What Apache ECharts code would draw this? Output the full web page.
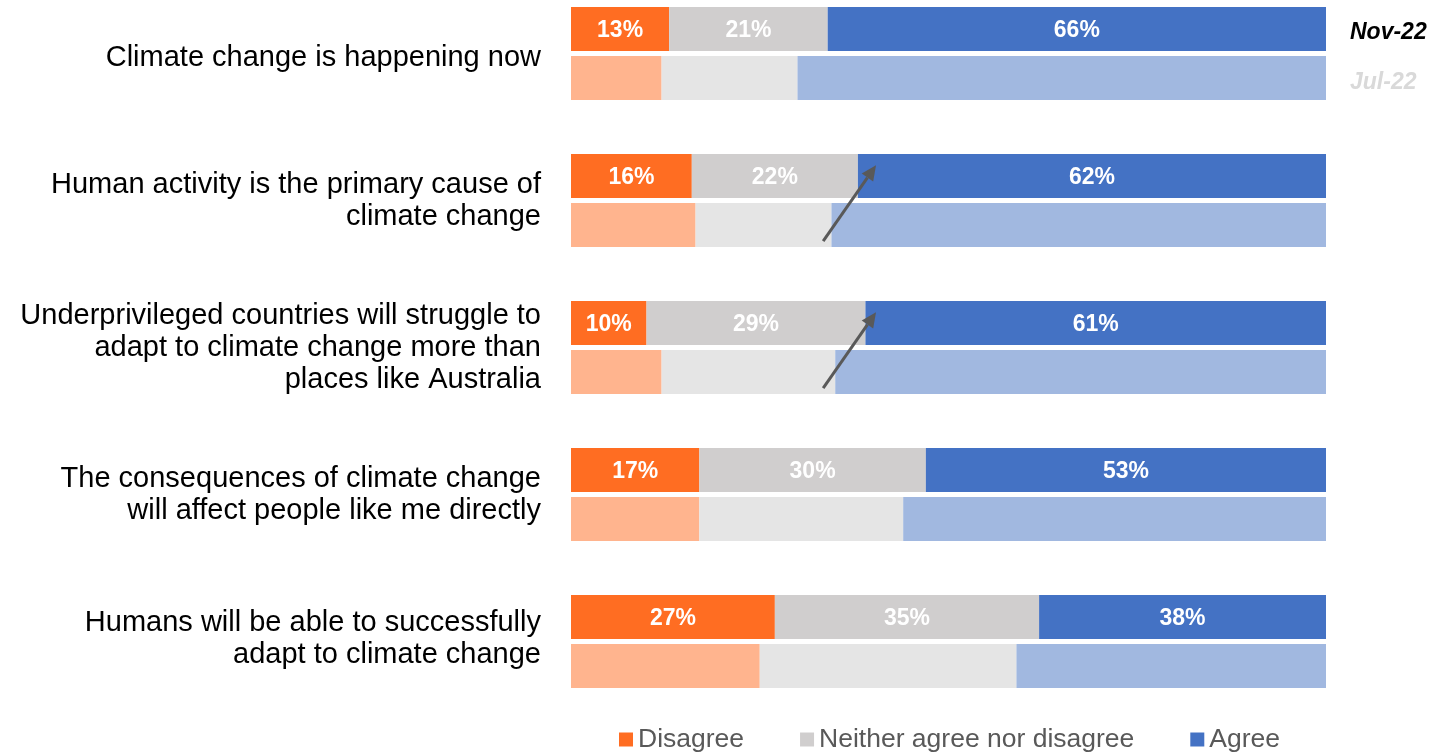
<!DOCTYPE html>
<html>
<head>
<meta charset="utf-8">
<script src="https://cdn.jsdelivr.net/npm/echarts@6/dist/echarts.min.js"></script>
<style>html,body{margin:0;padding:0;background:#fff}#c{width:1434px;height:752px}</style>
</head>
<body>
<div id="c"></div>
<script>
var categories = [
  'Climate change is happening now',
  'Human activity is the primary cause of\nclimate change',
  'Underprivileged countries will struggle to\nadapt to climate change more than\nplaces like Australia',
  'The consequences of climate change\nwill affect people like me directly',
  'Humans will be able to successfully\nadapt to climate change'
];
var waveNames = ['Nov-22', 'Jul-22'];
var seriesNames = ['Disagree', 'Neither agree nor disagree', 'Agree'];
var novDisagree = [13, 16, 10, 17, 27];
var novNeither  = [21, 22, 29, 30, 35];
var novAgree    = [66, 62, 61, 53, 38];
var julDisagree = [12, 16.5, 12, 17, 25];
var julNeither  = [18, 18, 23, 27, 34];
var julAgree    = [70, 65.5, 65, 56, 41];
// arrows: category index and x values (%)
var arrowCats = [1, 2];
var arrowFromX = [33.4, 33.4];
var arrowToX = [40.4, 40.4];

var FONT = '"Liberation Sans", Arial, sans-serif';
var novColors = ['#FF6D22', '#D0CECE', '#4472C4'];
var julColors = ['#FFB48E', '#E5E5E5', '#A1B8E0'];

var chart = echarts.init(document.getElementById('c'), null, {renderer: 'canvas'});

function mk(name, stack, data, color, showLabel) {
  return {
    name: name, type: 'bar', stack: stack, data: data,
    barWidth: 44, barGap: '11%', clip: false,
    itemStyle: {color: color},
    label: {show: showLabel, position: 'inside', offset: [0, 2], formatter: '{c}%', color: '#fff',
      fontWeight: 'bold', fontSize: 23, fontFamily: FONT},
    emphasis: {disabled: true},
    animation: false
  };
}

var novData = [novDisagree, novNeither, novAgree];
var julData = [julDisagree, julNeither, julAgree];
var series = [];
for (var i = 0; i < 3; i++) series.push(mk(seriesNames[i], 'nov', novData[i], novColors[i], true));
for (var j = 0; j < 3; j++) series.push(mk(seriesNames[j] + ' (' + waveNames[1] + ')', 'jul', julData[j], julColors[j], false));

var lblBase = {fontSize: 29, color: '#000', lineHeight: 32, fontFamily: FONT, align: 'right'};
var rich = {
  n: lblBase,
  dn: Object.assign({}, lblBase, {padding: [8, 0, 0, 0]}),
  up: Object.assign({}, lblBase, {padding: [0, 0, 6, 0]})
};

chart.setOption({
  animation: false,
  textStyle: {fontFamily: FONT},
  grid: {left: 571, right: 108, top: 53.5, height: 588},
  xAxis: {type: 'value', min: 0, max: 100, show: false},
  yAxis: {type: 'category', inverse: true, data: categories, boundaryGap: false,
    axisLine: {show: false}, axisTick: {show: false}, splitLine: {show: false},
    axisLabel: {fontSize: 29, color: '#000', lineHeight: 32, margin: 30, fontFamily: FONT, align: 'right',
      rich: rich,
      formatter: function (v, idx) {
        var tag = idx === 0 ? 'dn' : (idx === categories.length - 1 ? 'up' : 'n');
        return v.split('\n').map(function (s) { return '{' + tag + '|' + s + '}'; }).join('\n');
      }}},
  legend: {data: seriesNames, left: 614, top: 721, itemWidth: 14, itemHeight: 14, itemGap: 56,
    icon: 'rect', textStyle: {fontSize: 26.5, color: '#595959', fontFamily: FONT}, selectedMode: false},
  series: series
});

function drawExtras() {
  var p0 = chart.convertToPixel({gridIndex: 0}, [0, 0]);
  var p1 = chart.convertToPixel({gridIndex: 0}, [0, 1]);
  var band = p1[1] - p0[1];
  var pEnd = chart.convertToPixel({gridIndex: 0}, [100, 0]);
  var off = (44 + 5) / 2;
  var g = [];
  g.push({type: 'text', left: pEnd[0] + 24, top: p0[1] - off - 8,
    style: {text: waveNames[0], font: 'italic bold 23px ' + FONT, fill: '#000'}});
  g.push({type: 'text', left: pEnd[0] + 24, top: p0[1] + off - 7,
    style: {text: waveNames[1], font: 'italic bold 23px ' + FONT, fill: '#D9D9D9'}});
  for (var k = 0; k < arrowCats.length; k++) {
    var c = chart.convertToPixel({gridIndex: 0}, [0, arrowCats[k]]);
    var t = chart.convertToPixel({gridIndex: 0}, [arrowFromX[k], arrowCats[k]]);
    var h = chart.convertToPixel({gridIndex: 0}, [arrowToX[k], arrowCats[k]]);
    var x1 = t[0], y1 = c[1] + 0.276 * band;
    var x2 = h[0], y2 = c[1] - 0.24 * band;
    var dx = x2 - x1, dy = y2 - y1, L = Math.sqrt(dx * dx + dy * dy);
    var ux = dx / L, uy = dy / L, hl = 15, hw = 7;
    var bx = x2 - ux * hl, by = y2 - uy * hl;
    g.push({type: 'line', shape: {x1: x1, y1: y1, x2: bx, y2: by},
      style: {stroke: '#595959', lineWidth: 3}, z: 100});
    g.push({type: 'polygon', shape: {points: [[x2, y2], [bx - uy * hw, by + ux * hw], [bx + uy * hw, by - ux * hw]]},
      style: {fill: '#595959'}, z: 100});
  }
  chart.setOption({graphic: g});
}
drawExtras();
</script>
</body>
</html>
